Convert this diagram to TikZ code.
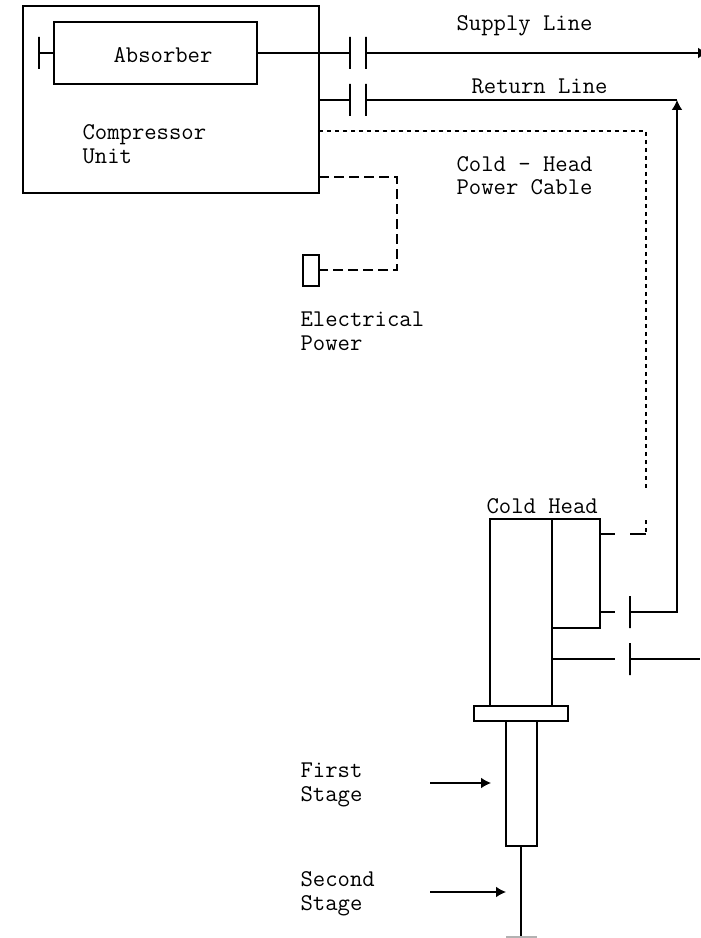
\documentclass[tikz,border=0pt]{standalone}
\usepackage{amsmath}
\usepackage{fontspec}
\usetikzlibrary{shapes,arrows.meta,positioning,calc}

\begin{document}
\begin{tikzpicture}[x=0.75pt, y=-0.75pt, line width=0.85pt,
    every node/.style={font=\fontsize{18}{17.5}\selectfont\ttfamily, inner sep=0pt, anchor=base west, align=left},
    box/.style={draw, rectangle, anchor=center},
    plate/.style={draw, rectangle, anchor=center, minimum width=0pt, minimum height=24pt},
    dotline/.style={dash pattern=on 3pt off 3pt},
    dashline/.style={dash pattern=on 7.5pt off 3.75pt},
    tip/.style={-{Latex[length=7.5pt,width=8pt]}}]
    \useasboundingbox (0,0) rectangle (700,938);

    \node[box, minimum width=222pt, minimum height=140.25pt] (comp) at (171,99.5) {};
    \node[box, minimum width=152.25pt, minimum height=46.5pt] (abs) at (155.5,53) {};
    \node[box, minimum width=12pt, minimum height=23.25pt] (plug) at (311,270.5) {};
    \node[box, minimum width=46.5pt, minimum height=140.25pt] (head) at (521,612.5) {};
    \node[box, minimum width=36pt, minimum height=81.75pt] (valve) at (576,573.5) {};
    \node[box, minimum width=70.5pt, minimum height=11.25pt] (flange) at (521,713.5) {};
    \node[box, minimum width=23.25pt, minimum height=93.75pt] (first) at (521.5,783.5) {};

    \node[plate] (endplate) at (39,53) {};
    \node[plate] (supa) at (350,53) {};
    \node[plate] (supb) at (366,53) {};
    \node[plate] (reta) at (350,100) {};
    \node[plate] (retb) at (366,100) {};
    \node[plate] (headret) at (630,612) {};
    \node[plate] (headsup) at (630,659) {};

    \coordinate (supend) at (708,53);
    \coordinate (retout) at (319,100);
    \coordinate (retcorner) at (677,100);
    \coordinate (cableout) at (319,131);
    \coordinate (cablecorner) at (646,131);
    \coordinate (cablegap) at (646,490);
    \coordinate (cableres) at (646,520);
    \coordinate (cablelow) at (646,534);
    \coordinate (cablea) at (630,534);
    \coordinate (cableb) at (615,534);
    \coordinate (valvecable) at (600,534);
    \coordinate (valveret) at (600,612);
    \coordinate (valvestub) at (615,612);
    \coordinate (headline) at (552,659);
    \coordinate (headstub) at (615,659);
    \coordinate (supright) at (700,659);
    \coordinate (powerout) at (319,177);
    \coordinate (powertop) at (397,177);
    \coordinate (powerlow) at (397,270);
    \coordinate (rodtop) at (521,846);
    \coordinate (rodend) at (521,937);
    \coordinate (teea) at (506,937);
    \coordinate (teeb) at (537,937);
    \coordinate (firsta) at (430,783);
    \coordinate (firstb) at (491,783);
    \coordinate (seconda) at (430,892);
    \coordinate (secondb) at (506,892);

    \node (abslabel) at (113,63) {Absorber};
    \node (complabel) at (82,163) {Compressor\\Unit};
    \node (suplabel) at (456,31) {Supply Line};
    \node (retlabel) at (471,94) {Return Line};
    \node (cablelabel) at (456,195) {Cold - Head\\Power Cable};
    \node (powerlabel) at (300,350) {Electrical\\Power};
    \node (headlabel) at (486,513) {Cold Head};
    \node (firstlabel) at (300,801) {First\\Stage};
    \node (secondlabel) at (300,910) {Second\\Stage};

    \draw (abs.west) -- (endplate);
    \draw (abs.east) -- (supa);
    \draw[tip] (supb) -- (supend);
    \draw (retout) -- (reta);
    \draw (retb) -- (retcorner);
    \draw[tip] (headret) -| (retcorner);
    \draw (valveret) -- (valvestub);
    \draw (valvecable) -- (cableb);
    \draw (headline) -- (headstub);
    \draw (headsup) -- (supright);
    \draw[dotline] (cableout) -- (cablecorner) -- (cablegap);
    \draw[dotline] (cableres) -- (cablelow);
    \draw (cablelow) -- (cablea);
    \draw[dashline] (powerout) -- (powertop) -- (powerlow) -- (plug.east |- powerlow);
    \draw (rodtop) -- (rodend);
    \draw[gray!60] (teea) -- (teeb);
    \draw[tip] (firsta) -- (firstb);
    \draw[tip] (seconda) -- (secondb);
\end{tikzpicture}
\end{document}
